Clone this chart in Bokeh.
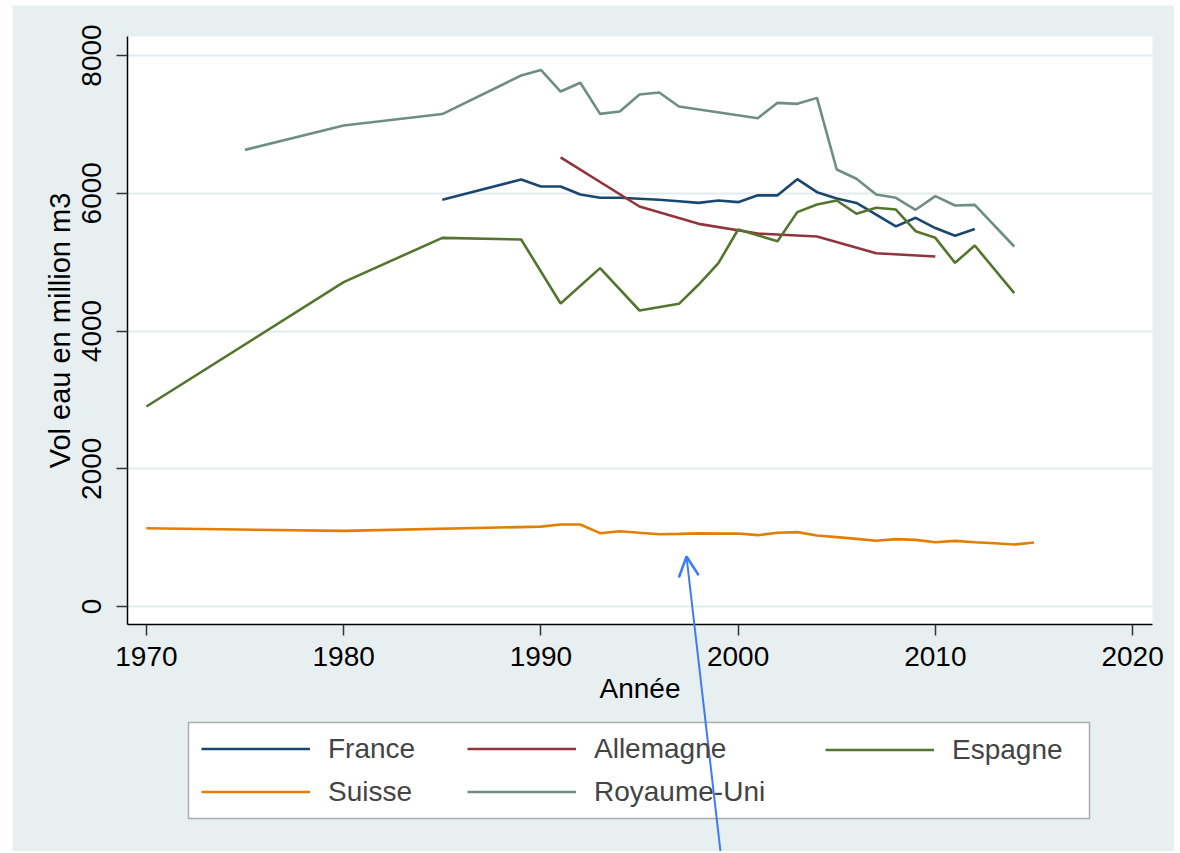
import math
from bokeh.plotting import figure
from bokeh.models import (Range1d, FixedTicker, Legend, LegendItem, Arrow, OpenHead,
                          Spacer, BoxAnnotation, Label, Grid)
from bokeh.layouts import row, column
from bokeh.embed import file_html
from bokeh.resources import INLINE

# ---- data ----
france_years = [1985, 1989, 1990, 1991, 1992, 1993, 1994, 1995, 1996, 1997, 1998, 1999, 2000,
                2001, 2002, 2003, 2004, 2005, 2006, 2007, 2008, 2009, 2010, 2011, 2012]
france_vals = [5905, 6200, 6098, 6098, 5982, 5934, 5934, 5920, 5905, 5885, 5860, 5895, 5871,
               5970, 5970, 6205, 6016, 5925, 5860, 5691, 5520, 5644, 5495, 5382, 5480]

allemagne_years = [1991, 1995, 1998, 2001, 2004, 2007, 2010]
allemagne_vals = [6520, 5808, 5556, 5415, 5372, 5130, 5082]

espagne_years = [1970, 1980, 1985, 1989, 1991, 1993, 1995, 1997, 1998, 1999, 2000, 2002, 2003,
                 2004, 2005, 2006, 2007, 2008, 2009, 2010, 2011, 2012, 2014]
espagne_vals = [2904, 4709, 5353, 5329, 4400, 4913, 4298, 4395, 4675, 4985, 5474, 5304, 5726,
                5837, 5895, 5702, 5789, 5764, 5449, 5353, 4990, 5241, 4549]

suisse_years = [1970, 1980, 1990, 1991, 1992, 1993, 1994, 1995, 1996, 1997, 1998, 1999, 2000,
                2001, 2002, 2003, 2004, 2005, 2006, 2007, 2008, 2009, 2010, 2011, 2012, 2013,
                2014, 2015]
suisse_vals = [1137, 1098, 1160, 1190, 1190, 1065, 1093, 1070, 1050, 1055, 1062, 1058, 1060,
               1036, 1070, 1080, 1031, 1007, 982, 955, 978, 968, 934, 953, 934, 918, 900, 929]

ru_years = [1975, 1980, 1985, 1989, 1990, 1991, 1992, 1993, 1994, 1995, 1996, 1997, 2001,
            2002, 2003, 2004, 2005, 2006, 2007, 2008, 2009, 2010, 2011, 2012, 2014]
ru_vals = [6630, 6985, 7150, 7710, 7790, 7477, 7604, 7153, 7187, 7434, 7463, 7260, 7090,
           7313, 7298, 7385, 6345, 6210, 5982, 5934, 5760, 5958, 5822, 5832, 5227]

x_ticks = [1970, 1980, 1990, 2000, 2010, 2020]
y_ticks = [0, 2000, 4000, 6000, 8000]
x_title = "Année"
y_title = "Vol eau en million m3"

series = [
    ("France", france_years, france_vals, "#1A476F"),
    ("Allemagne", allemagne_years, allemagne_vals, "#90353B"),
    ("Espagne", espagne_years, espagne_vals, "#55752F"),
    ("Suisse", suisse_years, suisse_vals, "#E37E00"),
    ("Royaume-Uni", ru_years, ru_vals, "#6E8E84"),
]
legend_columns = [["France", "Suisse"], ["Allemagne", "Royaume-Uni"], ["Espagne"]]

# ---- layout geometry (page pixels) ----
FONT = "Liberation Sans"
BG = "#E8EFF1"
FIG_L, FIG_T, FIG_W, FIG_H = 13, 5, 1162, 846
PL, PR, PT, PB = 128, 1153, 36, 624          # plot area on the page
X0, X1 = 1969.04, 2021.01                    # plot-area x extent (data)
Y0, Y1 = -261.0, 8276.0                      # plot-area y extent (data)
xpp = (X1 - X0) / (PR - PL)
ypp = (Y1 - Y0) / (PB - PT)


def X(px):
    return X0 + (px - PL) * xpp


def Y(py):
    return Y1 - (py - PT) * ypp


p = figure(frame_width=FIG_W, frame_height=FIG_H,
           x_range=Range1d(X(FIG_L), X(FIG_L + FIG_W)),
           y_range=Range1d(Y(FIG_T + FIG_H), Y(FIG_T)),
           output_backend="svg", toolbar_location=None, min_border=0,
           min_border_left=0, min_border_right=0, min_border_top=0, min_border_bottom=0,
           background_fill_color=BG, border_fill_color=BG, outline_line_color=None)

# white plot region
p.add_layout(BoxAnnotation(left=X0, right=X1, bottom=Y0, top=Y1, fill_color="white",
                           fill_alpha=1.0, line_color=None, level="image"))

p.xgrid.grid_line_color = None
p.ygrid.grid_line_color = "#E3EBEE"
p.ygrid.grid_line_width = 2
if "cross_bounds" in Grid.properties():
    p.ygrid.cross_bounds = (X0, X1)

for ax in (p.xaxis[0], p.yaxis[0]):
    ax.axis_line_color = "black"
    ax.axis_line_width = 1.5
    ax.major_tick_line_color = "#333333"
    ax.major_tick_line_width = 1.5
    ax.major_tick_out = 11
    ax.major_tick_in = 0
    ax.minor_tick_line_color = None
    ax.major_label_text_font = FONT
    ax.major_label_text_font_size = "28px"
    ax.major_label_text_color = "black"

p.xaxis.ticker = FixedTicker(ticks=x_ticks)
p.yaxis.ticker = FixedTicker(ticks=y_ticks)
p.xaxis.fixed_location = Y0
p.xaxis.bounds = (X0, X1)
p.xaxis.major_label_standoff = 11
p.yaxis.fixed_location = X0
p.yaxis.bounds = (Y0, Y1)
p.yaxis.major_label_orientation = "vertical"
p.yaxis.major_label_standoff = 15

# axis titles
p.add_layout(Label(x=X((PL + PR) / 2), y=Y(688), text=x_title, text_font=FONT,
                   text_font_size="28px", text_color="black", text_align="center",
                   text_baseline="alphabetic"))
p.add_layout(Label(x=X(60), y=Y((PT + PB) / 2), text=y_title, text_font=FONT,
                   text_font_size="29px", text_color="black", text_align="center",
                   text_baseline="alphabetic", angle=math.pi / 2))

renderers = {}
for name, xs, ys, col in series:
    renderers[name] = p.line(xs, ys, line_color=col, line_width=2.6)

# legend frame
p.add_layout(BoxAnnotation(left=X(189), right=X(1090), top=Y(722), bottom=Y(818),
                           fill_color="white", fill_alpha=1.0, line_color="black",
                           line_width=1.5))

ROW_PITCH = 42
col_left = [202, 468, 826]
legend_bottom = 807.5
for names, xl in zip(legend_columns, col_left):
    items = [LegendItem(label=n, renderers=[renderers[n]]) for n in names]
    bottom = legend_bottom - (2 - len(names)) * ROW_PITCH
    lg = Legend(items=items, orientation="vertical",
                location=(xl - FIG_L, FIG_T + FIG_H - bottom),
                label_text_font=FONT, label_text_font_size="28px",
                glyph_width=109, glyph_height=31, label_height=31,
                label_standoff=18, spacing=11, padding=0, margin=0,
                border_line_color=None, background_fill_alpha=0.0)
    p.add_layout(lg)

# annotation arrow (drawn on the reference)
arrow = Arrow(end=OpenHead(size=20, line_color="#3B7CF6", line_width=2.5),
              x_start=X(721), y_start=Y(FIG_T + FIG_H), x_end=X(687), y_end=Y(556),
              line_color="#3B7CF6", line_width=2)
p.add_layout(arrow)

layout = column(Spacer(width=10, height=5), row(Spacer(width=12, height=10), p))
open("out.html", "w").write(file_html(layout, INLINE))
